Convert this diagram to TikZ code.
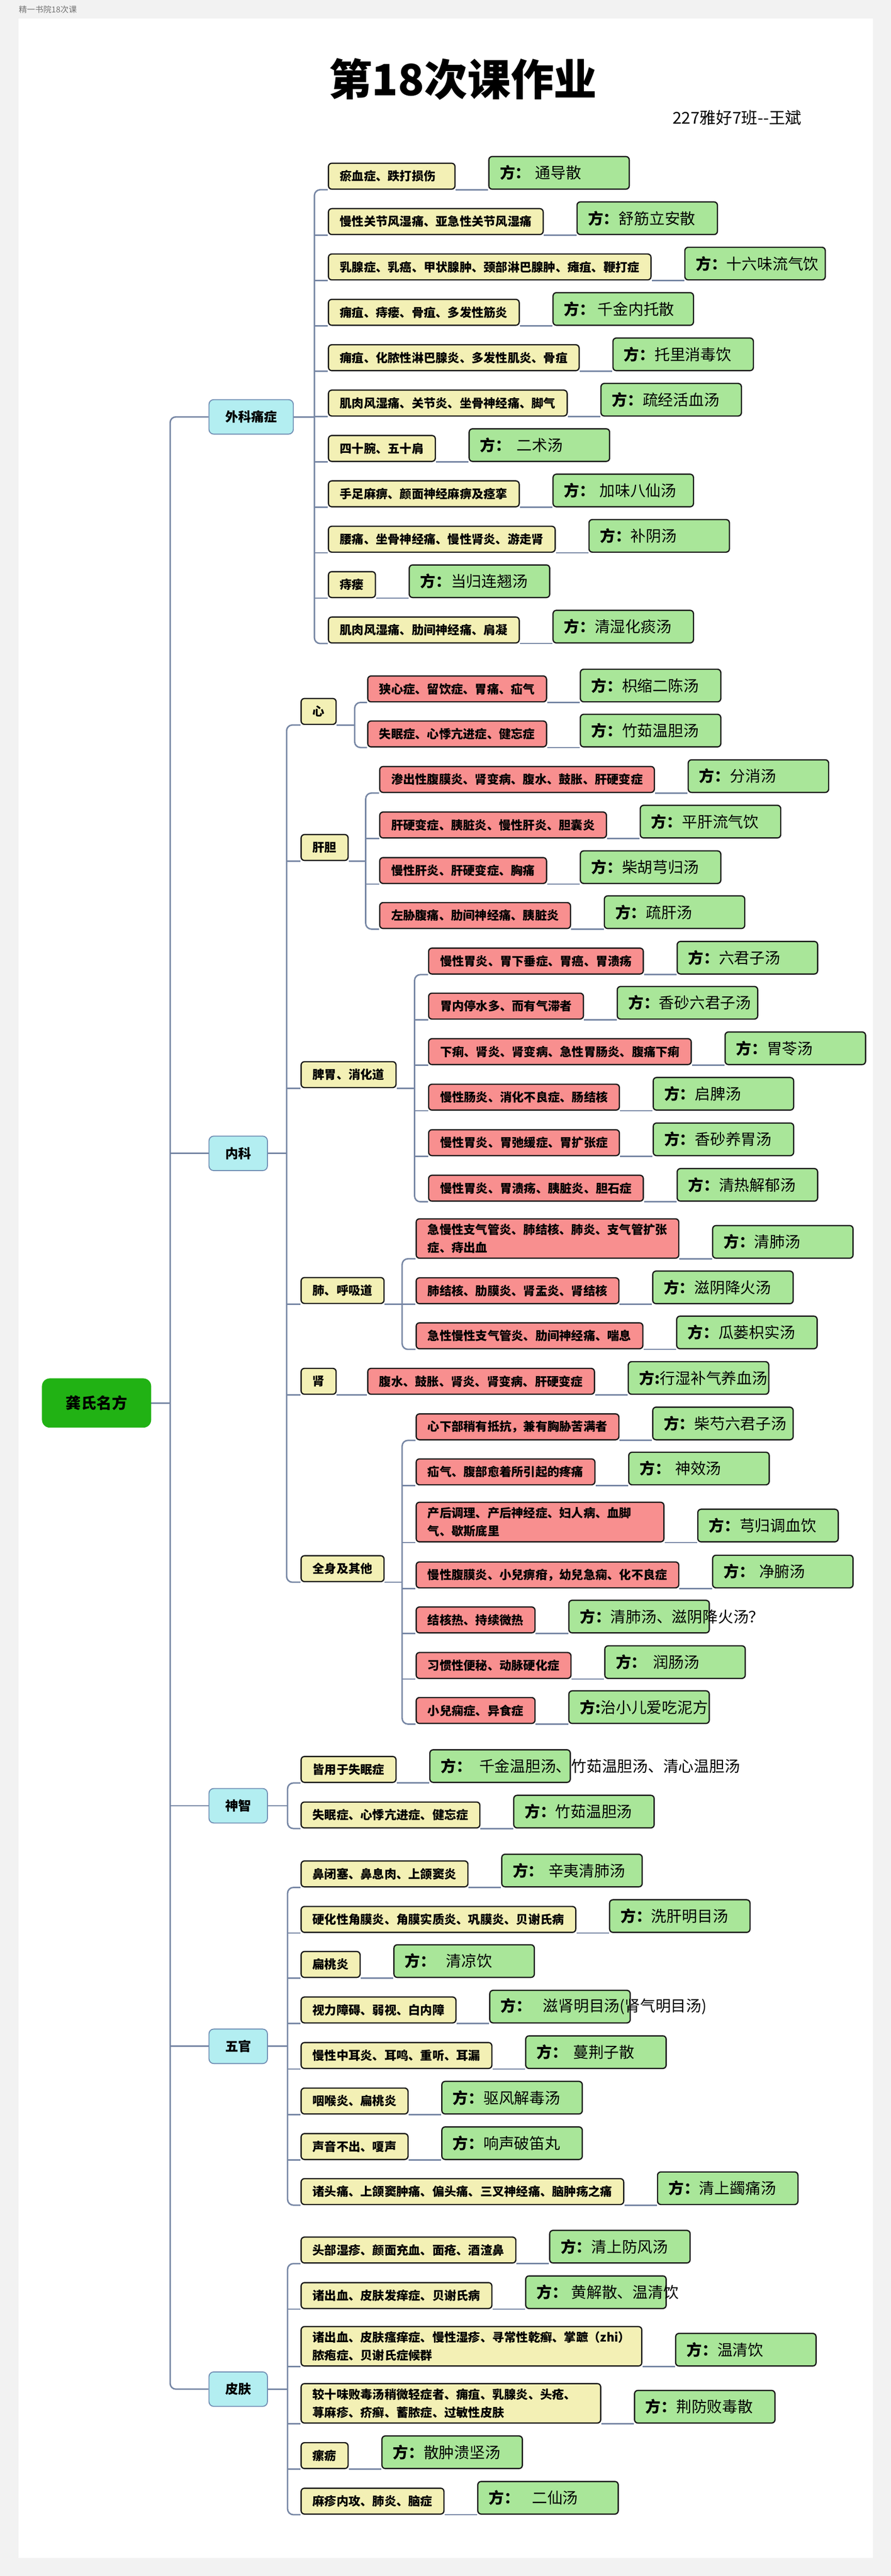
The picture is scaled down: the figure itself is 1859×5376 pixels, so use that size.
\documentclass[tikz,border=0pt]{standalone}
\usepackage{fontspec}
\setmainfont{Noto Sans CJK SC}
\usetikzlibrary{calc}
\pgfdeclarelayer{bottom}
\pgfdeclarelayer{background}
\pgfsetlayers{bottom,background,main}
\definecolor{cPage}{HTML}{F2F2F2}
\definecolor{cYel}{HTML}{F3F0B5}
\definecolor{cRed}{HTML}{F88F8F}
\definecolor{cGrn}{HTML}{A9E699}
\definecolor{cCyan}{HTML}{B3EEF1}
\definecolor{cCyanB}{HTML}{6F8DB3}
\definecolor{cRoot}{HTML}{21B214}
\definecolor{cLine}{HTML}{7686A4}
\tikzset{
  conn/.style={draw=cLine, line width=1.5pt, rounded corners=6pt},
  boxbase/.style={rectangle, rounded corners=3.5pt, draw=black!90, line width=1.3pt,
    inner xsep=12pt, inner ysep=5pt, minimum height=27pt, anchor=south west,
    font=\fontsize{12.5pt}{19pt}\selectfont\bfseries},
  ybox/.style={boxbase, fill=cYel},
  rbox/.style={boxbase, fill=cRed},
  gbox/.style={rectangle, rounded corners=3.5pt, draw=black!90, line width=1.3pt, fill=cGrn,
    minimum width=146.5pt, minimum height=34pt, inner sep=0pt, anchor=south west},
  gtxt/.style={anchor=west, inner sep=0pt, font=\fontsize{16pt}{19pt}\selectfont},
  cbox/.style={rectangle, rounded corners=5pt, draw=cCyanB, line width=1pt, fill=cCyan,
    minimum height=36pt, inner xsep=17pt, anchor=west,
    font=\fontsize{13.5pt}{16pt}\selectfont\bfseries},
  rootbox/.style={rectangle, rounded corners=8pt, fill=cRoot, draw=cRoot,
    minimum width=113.5pt, minimum height=51pt,
    font=\fontsize{16pt}{19pt}\selectfont\bfseries}
}
\newcommand{\fang}{{\bfseries 方：}}
\newcommand{\fangA}{{\bfseries 方:}}
\newcommand{\leafrow}[5]{%
  \node[#2] (#1) at (#3) {#4};
  \node[gbox] (#1g) at ($(#1.south east)+(68,0)$) {};
  \node[gtxt] at ($(#1g.west)+(24,0)$) {#5};
}
\begin{document}
\begin{tikzpicture}[x=0.5pt,y=-0.5pt]
\useasboundingbox (0,0) rectangle (1859,5376);
\begin{pgfonlayer}{bottom}
\fill[cPage] (0,0) rectangle (1859,5376);
\fill[white] (39,39) rectangle (1821,5338);
\end{pgfonlayer}

% header texts
\node[anchor=west, inner sep=0pt, text=black!55, font=\fontsize{8.5pt}{10pt}\selectfont] (hdr) at (39,20) {精一书院18次课};
\node[font=\fontsize{45pt}{54pt}\selectfont\bfseries] (title) at (966,165) {第18次课作业};
\node[anchor=west, inner sep=0pt, font=\fontsize{17pt}{20pt}\selectfont] (author) at (1403,246) {227雅好7班-{}-王斌};

% root and level 1
\node[rootbox] (root) at (201.5,2928) {龚氏名方};
\node[cbox] (W) at (435,870) {外科痛症};
\node[cbox] (N) at (435,2407) {内科};
\node[cbox] (S) at (435,3768.5) {神智};
\node[cbox] (F) at (435,4270.5) {五官};
\node[cbox] (P) at (435,4986) {皮肤};

% 外科痛症
\leafrow{w1}{ybox}{684,396}{瘀血症、跌打损伤\hspace*{8pt}}{\fang\hspace{5pt}通导散}
\leafrow{w2}{ybox}{684,490.7}{慢性关节风湿痛、亚急性关节风湿痛}{\fang 舒筋立安散}
\leafrow{w3}{ybox}{684,585.4}{乳腺症、乳癌、甲状腺肿、颈部淋巴腺肿、瘫疽、鞭打症}{\fang 十六味流气饮}
\leafrow{w4}{ybox}{684,680.1}{痈疽、痔瘘、骨疽、多发性筋炎}{\fang\hspace{3pt}千金内托散}
\leafrow{w5}{ybox}{684,774.8}{痈疽、化脓性淋巴腺炎、多发性肌炎、骨疽}{\fang 托里消毒饮}
\leafrow{w6}{ybox}{684,869.5}{肌肉风湿痛、关节炎、坐骨神经痛、脚气}{\fang 疏经活血汤}
\leafrow{w7}{ybox}{684,964.2}{四十腕、五十肩}{\fang\hspace{6pt}二术汤}
\leafrow{w8}{ybox}{684,1058.9}{手足麻痹、颜面神经麻痹及痉挛}{\fang\hspace{5pt}加味八仙汤}
\leafrow{w9}{ybox}{684,1153.6}{腰痛、坐骨神经痛、慢性肾炎、游走肾}{\fang 补阴汤}
\leafrow{w10}{ybox}{684,1248.3}{痔瘘}{\fang 当归连翘汤}
\leafrow{w11}{ybox}{684,1343}{肌肉风湿痛、肋间神经痛、肩凝}{\fang 清湿化痰汤}

% 内科 level 2
\node[ybox] (Nh) at (627,1513) {心};
\node[ybox] (Ng) at (627,1797) {肝胆};
\node[ybox] (Np) at (627,2271) {脾胃、消化道};
\node[ybox] (Nl) at (627,2721.5) {肺、呼吸道};
\node[ybox] (Nk) at (627,2911) {肾};
\node[ybox] (Nq) at (627,3302) {全身及其他};

% 心
\leafrow{h1}{rbox}{766,1466}{狭心症、留饮症、胃痛、疝气}{\fang 枳缩二陈汤}
\leafrow{h2}{rbox}{766,1560}{失眠症、心悸亢进症、健忘症}{\fang 竹茹温胆汤}
% 肝胆
\leafrow{g1}{rbox}{791,1655}{渗出性腹膜炎、肾变病、腹水、鼓胀、肝硬变症}{\fang 分消汤}
\leafrow{g2}{rbox}{791,1750}{肝硬变症、胰脏炎、慢性肝炎、胆囊炎}{\fang 平肝流气饮}
\leafrow{g3}{rbox}{791,1845}{慢性肝炎、肝硬变症、胸痛}{\fang 柴胡芎归汤}
\leafrow{g4}{rbox}{791,1939}{左胁腹痛、肋间神经痛、胰脏炎}{\fang 疏肝汤}
% 脾胃
\leafrow{p1}{rbox}{893,2034}{慢性胃炎、胃下垂症、胃癌、胃溃疡}{\fang 六君子汤}
\leafrow{p2}{rbox}{893,2128}{胃内停水多、而有气滞者}{\fang 香砂六君子汤}
\leafrow{p3}{rbox}{893,2223}{下痢、肾炎、肾变病、急性胃肠炎、腹痛下痢}{\fang 胃苓汤}
\leafrow{p4}{rbox}{893,2318}{慢性肠炎、消化不良症、肠结核}{\fang 启脾汤}
\leafrow{p5}{rbox}{893,2413}{慢性胃炎、胃弛缓症、胃扩张症}{\fang 香砂养胃汤}
\leafrow{p6}{rbox}{893,2508}{慢性胃炎、胃溃疡、胰脏炎、胆石症}{\fang 清热解郁汤}
% 肺
\leafrow{l1}{rbox, align=left}{867,2627}{急慢性支气管炎、肺结核、肺炎、支气管扩张\\症、痔出血}{\fang 清肺汤}
\leafrow{l2}{rbox}{867,2722}{肺结核、肋膜炎、肾盂炎、肾结核}{\fang 滋阴降火汤}
\leafrow{l3}{rbox}{867,2816}{急性慢性支气管炎、肋间神经痛、喘息}{\fang 瓜蒌枳实汤}
% 肾
\leafrow{k1}{rbox}{766,2911}{腹水、鼓胀、肾炎、肾变病、肝硬变症}{\fangA 行湿补气养血汤}
% 全身及其他
\leafrow{q1}{rbox}{867,3006}{心下部稍有抵抗，兼有胸胁苦满者}{\fang 柴芍六君子汤}
\leafrow{q2}{rbox}{867,3100}{疝气、腹部愈着所引起的疼痛}{\fang\hspace{5pt}神效汤}
\leafrow{q3}{rbox, align=left, text width=234.5pt}{867,3219}{产后调理、产后神经症、妇人病、血脚\\气、歇斯底里}{\fang 芎归调血饮}
\leafrow{q4}{rbox}{867,3315}{慢性腹膜炎、小兒痹疳，幼兒急痫、化不良症}{\fang\hspace{5pt}净腑汤}
\leafrow{q5}{rbox}{867,3409}{结核热、持续微热}{\fang 清肺汤、滋阴降火汤？}
\leafrow{q6}{rbox}{867,3504}{习惯性便秘、动脉硬化症}{\fang\hspace{7pt}润肠汤}
\leafrow{q7}{rbox}{867,3598}{小兒痫症、异食症}{\fangA 治小儿爱吃泥方}

% 神智
\leafrow{s1}{ybox}{627,3721}{皆用于失眠症}{\fang\hspace{8pt}千金温胆汤、竹茹温胆汤、清心温胆汤}
\leafrow{s2}{ybox}{627,3816}{失眠症、心悸亢进症、健忘症}{\fang 竹茹温胆汤}

% 五官
\leafrow{f1}{ybox}{627,3939}{鼻闭塞、鼻息肉、上颌窦炎}{\fang\hspace{5pt}辛夷清肺汤}
\leafrow{f2}{ybox}{627,4034}{硬化性角膜炎、角膜实质炎、巩膜炎、贝谢氏病}{\fang 洗肝明目汤}
\leafrow{f3}{ybox}{627,4128}{扁桃炎}{\fang\hspace{11pt}清凉饮}
\leafrow{f4}{ybox}{627,4223}{视力障碍、弱视、白内障}{\fang\hspace{12pt}滋肾明目汤(肾气明目汤)}
\leafrow{f5}{ybox}{627,4318}{慢性中耳炎、耳鸣、重听、耳漏}{\fang\hspace{6pt}蔓荆子散}
\leafrow{f6}{ybox}{627,4413}{咽喉炎、扁桃炎}{\fang 驱风解毒汤}
\leafrow{f7}{ybox}{627,4508}{声音不出、嗄声}{\fang 响声破笛丸}
\leafrow{f8}{ybox}{627,4602}{诸头痛、上颌窦肿痛、偏头痛、三叉神经痛、脑肿疡之痛}{\fang 清上蠲痛汤}

% 皮肤
\leafrow{d1}{ybox}{627,4724}{头部湿疹、颜面充血、面疮、酒渣鼻}{\fang 清上防风汤}
\leafrow{d2}{ybox}{627,4819}{诸出血、皮肤发痒症、贝谢氏病}{\fang\hspace{4pt}黄解散、温清饮}
\leafrow{d3}{ybox, align=left}{627,4939}{诸出血、皮肤瘙痒症、慢性湿疹、寻常性乾癣、掌蹠（zhi）\\脓疱症、贝谢氏症候群}{\fang 温清饮}
\leafrow{d4}{ybox, align=left, text width=288.5pt}{627,5058}{较十味败毒汤稍微轻症者、痈疽、乳腺炎、头疮、\\荨麻疹、疥癣、蓄脓症、过敏性皮肤}{\fang 荆防败毒散}
\leafrow{d5}{ybox}{627,5153}{瘰疬}{\fang 散肿溃坚汤}
\leafrow{d6}{ybox}{627,5248}{麻疹内攻、肺炎、脑症}{\fang\hspace{13pt}二仙汤}

% ---------------- connectors ----------------
\begin{pgfonlayer}{background}
\coordinate (tR) at (355,2928);
\draw[conn] (root.east) -- (tR);
\draw[conn] (W.west) -| (tR) |- (P.west);
\foreach \n in {N,S,F} \draw[conn] (\n.west -| tR) -- (\n.west);

% 外科
\coordinate (tW) at (656,869.5);
\draw[conn] (W.east) -- (W.east -| tW);
\draw[conn] (w1.south west) -| (tW) |- (w11.south west);
\foreach \i in {2,...,10} \draw[conn] (w\i.south west -| tW) -- (w\i.south west);
\foreach \i in {1,...,11} \draw[conn] (w\i.south east) -- (w\i g.south west);

% 内科
\coordinate (tN) at (598,2407);
\draw[conn] (N.east) -- (N.east -| tN);
\draw[conn] (Nh.south west) -| (tN) |- (Nq.south west);
\foreach \n in {Ng,Np,Nl,Nk} \draw[conn] (\n.south west -| tN) -- (\n.south west);

\coordinate (tH) at (740,1513);
\draw[conn] (Nh.south east) -- (Nh.south east -| tH);
\draw[conn] (h1.south west) -| (tH) |- (h2.south west);
\foreach \i in {1,2} \draw[conn] (h\i.south east) -- (h\i g.south west);

\coordinate (tG) at (763,1797);
\draw[conn] (Ng.south east) -- (Ng.south east -| tG);
\draw[conn] (g1.south west) -| (tG) |- (g4.south west);
\foreach \i in {2,3} \draw[conn] (g\i.south west -| tG) -- (g\i.south west);
\foreach \i in {1,...,4} \draw[conn] (g\i.south east) -- (g\i g.south west);

\coordinate (tP) at (865,2271);
\draw[conn] (Np.south east) -- (Np.south east -| tP);
\draw[conn] (p1.south west) -| (tP) |- (p6.south west);
\foreach \i in {2,...,5} \draw[conn] (p\i.south west -| tP) -- (p\i.south west);
\foreach \i in {1,...,6} \draw[conn] (p\i.south east) -- (p\i g.south west);

\coordinate (tL) at (839,2721.5);
\draw[conn] (Nl.south east) -- (Nl.south east -| tL);
\draw[conn] (l1.south west) -| (tL) |- (l3.south west);
\draw[conn] (l2.south west -| tL) -- (l2.south west);
\foreach \i in {1,...,3} \draw[conn] (l\i.south east) -- (l\i g.south west);

\draw[conn] (Nk.south east) -- (k1.south west);
\draw[conn] (k1.south east) -- (k1g.south west);

\coordinate (tQ) at (839,3302);
\draw[conn] (Nq.south east) -- (Nq.south east -| tQ);
\draw[conn] (q1.south west) -| (tQ) |- (q7.south west);
\foreach \i in {2,...,6} \draw[conn] (q\i.south west -| tQ) -- (q\i.south west);
\foreach \i in {1,...,7} \draw[conn] (q\i.south east) -- (q\i g.south west);

% 神智
\coordinate (tS) at (600,3768.5);
\draw[conn] (S.east) -- (S.east -| tS);
\draw[conn] (s1.south west) -| (tS) |- (s2.south west);
\foreach \i in {1,2} \draw[conn] (s\i.south east) -- (s\i g.south west);

% 五官
\coordinate (tF) at (600,4270.5);
\draw[conn] (F.east) -- (F.east -| tF);
\draw[conn] (f1.south west) -| (tF) |- (f8.south west);
\foreach \i in {2,...,7} \draw[conn] (f\i.south west -| tF) -- (f\i.south west);
\foreach \i in {1,...,8} \draw[conn] (f\i.south east) -- (f\i g.south west);

% 皮肤
\coordinate (tD) at (600,4986);
\draw[conn] (P.east) -- (P.east -| tD);
\draw[conn] (d1.south west) -| (tD) |- (d6.south west);
\foreach \i in {2,...,5} \draw[conn] (d\i.south west -| tD) -- (d\i.south west);
\foreach \i in {1,...,6} \draw[conn] (d\i.south east) -- (d\i g.south west);
\end{pgfonlayer}
\end{tikzpicture}
\end{document}
